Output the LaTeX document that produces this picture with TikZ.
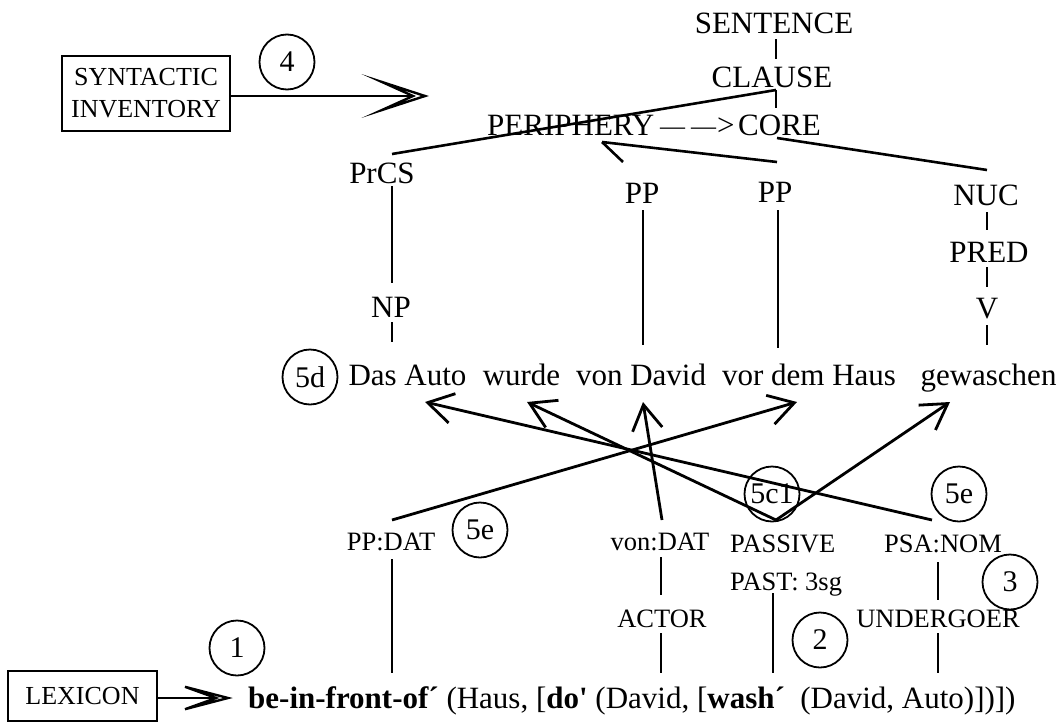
\documentclass[tikz,border=0pt]{standalone}
\usepackage{fontspec}
\newfontfamily\tnr{Liberation Serif}
\usetikzlibrary{arrows.meta}
\tikzset{
  big/.style={font=\tnr\fontsize{31}{34}\selectfont, inner sep=0pt, anchor=base},
  small/.style={font=\tnr\fontsize{26.5}{30}\selectfont, inner sep=0pt, anchor=base},
  num/.style={circle, draw, line width=1.8pt, minimum size=55pt, inner sep=0pt, font=\tnr\fontsize{30}{30}\selectfont},
  tree/.style={line width=2.6pt},
  link/.style={line width=2.8pt, -{Straight Barb[length=25pt,width=30pt]}},
  source/.style={draw, line width=2.4pt, inner sep=0pt, font=\tnr\fontsize{26}{32}\selectfont, align=center},
  shaft/.style={line width=2.4pt},
  chevron/.pic={\draw[line width=2.4pt, line join=miter, miter limit=20] (-43,-14) -- (0,0) -- (-43,14) -- (-12,0) -- cycle;}
}
\begin{document}
\begin{tikzpicture}[x=1pt,y=-1pt]
\useasboundingbox (0,0) rectangle (1063,723);
% ---------- tree labels
\node[big] (sentence) at (774,33) {SENTENCE};
\node[big] (clause) at (772,87) {CLAUSE};
\node[big, anchor=base west] (periph) at (487,135) {PERIPHERY};
\node[big, anchor=base west] (dashes) at (660,135) {\raisebox{1pt}{\fontsize{25}{25}\selectfont —\hspace{6pt}—}\hspace{1pt}>};
\node[big, anchor=base west] (core) at (738,135) {CORE};
\node[big] (prcs) at (382,183) {PrCS};
\node[big] (np) at (391,317) {NP};
\node[big] (pp1) at (642,203) {PP};
\node[big] (pp2) at (775,202) {PP};
\node[big] (nuc) at (986,205) {NUC};
\node[big] (pred) at (989,262) {PRED};
\node[big] (v) at (987,318) {V};
% ---------- sentence
\node[big] (auto) at (407.5,385) {Das Auto};
\node[big] (wurde) at (521.5,385) {wurde};
\node[big] (david) at (641,385) {von David};
\node[big] (haus) at (809,385) {vor dem Haus};
\node[big] (gew) at (988.5,385) {gewaschen};
% ---------- lower labels
\node[small] (ppdat) at (391,550) {PP:DAT};
\node[small] (vondat) at (660,550) {von:DAT};
\node[small, anchor=base west] (passive) at (730,552) {PASSIVE};
\node[small, anchor=base west] (past) at (730,590) {PAST: 3sg};
\node[small] (psanom) at (943,552) {PSA:NOM};
\node[small] (actor) at (662,627) {ACTOR};
\node[small] (undergoer) at (938,627) {UNDERGOER};
\node[big, anchor=base west] (formula) at (248,708) {\bfseries be-in-front-of´\mdseries{} (Haus, [\bfseries do'\mdseries{} (David, [\bfseries wash´\mdseries\ \ (David, Auto)])])};
% ---------- boxes
\node[source, minimum width=168pt, minimum height=75pt] (syn) at (146,93.5) {SYNTACTIC\\INVENTORY};
\node[source, minimum width=149pt, minimum height=50pt] (lex) at (82.5,696) {LEXICON};
% ---------- circled numbers
\node[num] (n4) at (287,62) {4};
\node[num] (n1) at (237,648) {1};
\node[num] (n2) at (820,640) {2};
\node[num] (n3) at (1010,582) {3};
\node[num] (n5d) at (310,377) {5d};
\node[num] (n5el) at (480,530) {5e};
\node[num] (n5c) at (772,494) {5c1};
\node[num] (n5er) at (959,494) {5e};
% ---------- connector end points
\coordinate (synEnd) at (425,96);  \coordinate (synIn) at (413,96);
\coordinate (lexEnd) at (228,698); \coordinate (lexIn) at (216,698);
\coordinate (sB) at (776,39);  \coordinate (cT) at (776,59);
\coordinate (cB) at (776,90);  \coordinate (coreT) at (776,108);
\coordinate (prcsT) at (392,154);
\coordinate (perB) at (602,142);
\coordinate (pp1T) at (623,162); \coordinate (pp2T) at (777,162);
\coordinate (coreB) at (777,138); \coordinate (nucT) at (987,170);
\coordinate (prcsB) at (392,186); \coordinate (npT) at (392,283);
\coordinate (npB) at (392,322); \coordinate (npE) at (392,342);
\coordinate (pp1B) at (643,210); \coordinate (pp1E) at (643,345);
\coordinate (pp2B) at (778,210); \coordinate (pp2E) at (778,348);
\coordinate (nucB) at (987,212); \coordinate (predT) at (987,230);
\coordinate (predB) at (987,267); \coordinate (vT) at (987,287);
\coordinate (vB) at (987,325); \coordinate (vE) at (987,345);
\coordinate (autoA) at (425,402);
\coordinate (wurdeA) at (527,402);
\coordinate (davidA) at (643,402);
\coordinate (hausA) at (797,402);
\coordinate (gewA) at (950,402);
\coordinate (ppdatT) at (392,520);
\coordinate (vondatT) at (662,520);
\coordinate (passT) at (776,520);
\coordinate (psaT) at (932,520);
\coordinate (ppdatB) at (392,559); \coordinate (fbe) at (392,673);
\coordinate (vondatB) at (661,557); \coordinate (actorT) at (661,595);
\coordinate (actorB) at (661,633); \coordinate (fdo) at (661,673);
\coordinate (pastB) at (773,593); \coordinate (fwash) at (773,673);
\coordinate (psaB) at (938,562); \coordinate (undT) at (938,600);
\coordinate (undB) at (938,633); \coordinate (fauto) at (938,673);
% ---------- feeds
\draw[shaft] (syn.east |- synIn) -- (synIn);
\pic at (synEnd) {chevron};
\draw[shaft] (lex.east |- lexIn) -- (lexIn);
\pic[yscale=0.8] at (lexEnd) {chevron};
% ---------- tree
\draw[tree] (sB) -- (cT);
\draw[tree] (cB) -- (coreT);
\draw[tree] (cB) -- (prcsT);
\draw[tree] (perB) -- (pp1T);
\draw[tree] (perB) -- (pp2T);
\draw[tree] (coreB) -- (nucT);
\draw[tree] (prcsB) -- (npT);
\draw[tree] (npB) -- (npE);
\draw[tree] (pp1B) -- (pp1E);
\draw[tree] (pp2B) -- (pp2E);
\draw[tree] (nucB) -- (predT);
\draw[tree] (predB) -- (vT);
\draw[tree] (vB) -- (vE);
% ---------- linking arrows
\draw[link] (ppdatT) -- (hausA);
\draw[link] (vondatT) -- (davidA);
\draw[link] (passT) -- (wurdeA);
\draw[link] (passT) -- (gewA);
\draw[link] (psaT) -- (autoA);
% ---------- lower verticals
\draw[tree] (ppdatB) -- (fbe);
\draw[tree] (vondatB) -- (actorT);
\draw[tree] (actorB) -- (fdo);
\draw[tree] (pastB) -- (fwash);
\draw[tree] (psaB) -- (undT);
\draw[tree] (undB) -- (fauto);
\end{tikzpicture}
\end{document}
